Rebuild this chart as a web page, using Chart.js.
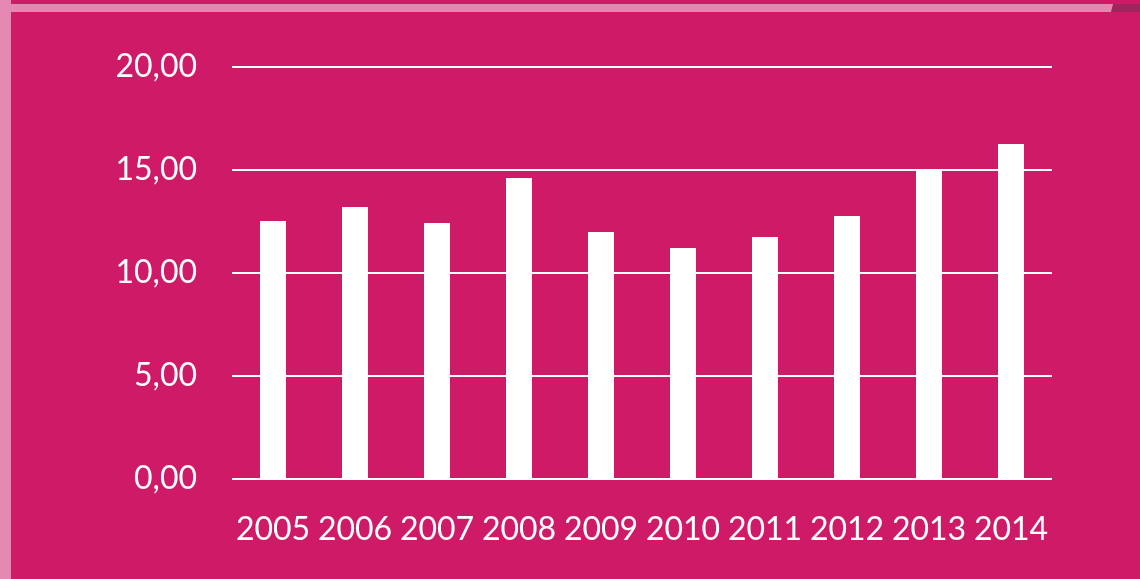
<!DOCTYPE html>
<html>
<head>
<meta charset="utf-8">
<script src="https://cdn.jsdelivr.net/npm/chart.js@4"></script>
<style>
  html, body { margin: 0; padding: 0; background: #CF1B67; }
  #wrap { width: 1140px; height: 579px; position: relative; }
</style>
</head>
<body>
<div id="wrap"><canvas id="myChart" width="1140" height="579"></canvas></div>
<script>
// datos del gráfico
const anios = ['2005', '2006', '2007', '2008', '2009', '2010', '2011', '2012', '2013', '2014'];
const valores = [12.52, 13.2, 12.43, 14.61, 11.99, 11.21, 11.75, 12.77, 14.97, 16.26];
const ticksY = [0, 5, 10, 15, 20];

const fondo = '#CF1B67';

// franjas decorativas del marco
const marco = {
  id: 'marco',
  beforeDraw(chart) {
    const ctx = chart.ctx;
    ctx.save();
    ctx.fillStyle = fondo;
    ctx.fillRect(0, 0, chart.width, chart.height);
    ctx.fillStyle = '#E487B1';
    ctx.fillRect(0, 0, 11, chart.height);
    ctx.fillRect(0, 4, 1113, 8);
    ctx.fillStyle = '#A0245E';
    ctx.beginPath();
    ctx.moveTo(1113, 4);
    ctx.lineTo(1140, 4);
    ctx.lineTo(1140, 12);
    ctx.lineTo(1111, 12);
    ctx.closePath();
    ctx.fill();
    ctx.restore();
  }
};

const ctx = document.getElementById('myChart').getContext('2d');
const myChart = new Chart(ctx, {
  type: 'bar',
  data: {
    labels: anios,
    datasets: [{
      data: valores,
      backgroundColor: '#FFFFFF',
      borderWidth: 0,
      barPercentage: 0.317,
      categoryPercentage: 1
    }]
  },
  options: {
    responsive: false,
    animation: false,
    layout: { padding: { top: 67, right: 88, bottom: 0, left: 0 } },
    plugins: {
      legend: { display: false },
      tooltip: { enabled: false }
    },
    scales: {
      x: {
        grid: { display: false, drawTicks: false },
        border: { display: false },
        ticks: {
          color: '#FFFFFF',
          font: { family: 'Lato', size: 32 },
          padding: 31,
          maxRotation: 0,
          autoSkip: false
        },
        afterFit(s) { s.height = 100; }
      },
      y: {
        min: 0,
        max: 20,
        afterBuildTicks(s) { s.ticks = ticksY.map(v => ({ value: v })); },
        grid: { color: '#FFFFFF', lineWidth: 2, drawTicks: false },
        border: { display: false },
        ticks: {
          color: '#FFFFFF',
          font: { family: 'Lato', size: 32 },
          padding: 35,
          callback: v => v.toFixed(2).replace('.', ',')
        },
        afterFit(s) { s.width = 232; }
      }
    }
  },
  plugins: [marco]
});
</script>
</body>
</html>
